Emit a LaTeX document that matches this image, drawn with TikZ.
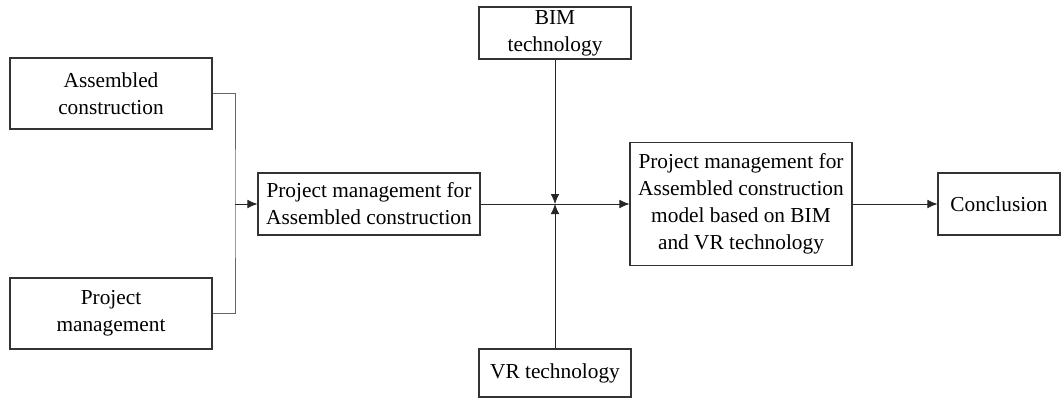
\documentclass[tikz,border=0pt]{standalone}
\usepackage{fontspec}
\setmainfont{Liberation Serif}
\usetikzlibrary{arrows.meta}
\begin{document}
\begin{tikzpicture}[x=0.75pt,y=-0.75pt,
  box/.style={draw=black!80,line width=0.8pt,align=center,inner sep=0pt,font=\fontsize{16}{20.3}\selectfont},
  link/.style={draw=black!85,line width=0.6pt},
  arr/.style={link,-{Latex[length=7.5pt,width=6.5pt]}},
  brk/.style={draw=black!60,line width=0.75pt}]
\useasboundingbox (0,0) rectangle (1062,400);
\node[box,minimum width=202*0.75pt,minimum height=71*0.75pt] (ac) at (111,93.5) {Assembled\\construction};
\node[box,minimum width=202*0.75pt,minimum height=71*0.75pt] (pm) at (111,313.5) {Project\\management};
\node[box,minimum width=222*0.75pt,minimum height=62*0.75pt] (pmac) at (369,204) {Project management for\\Assembled construction};
\node[box,minimum width=152*0.75pt,minimum height=52*0.75pt] (bim) at (555,33) {BIM\\technology};
\node[box,minimum width=152*0.75pt,minimum height=48*0.75pt] (vr) at (555,373) {VR technology};
\node[box,minimum width=222*0.75pt,minimum height=123*0.75pt] (big) at (741,204) {Project management for\\Assembled construction\\model based on BIM\\and VR technology};
\node[box,minimum width=122*0.75pt,minimum height=62*0.75pt] (con) at (999,204) {Conclusion};
\coordinate (j) at (555,204);
\coordinate (bx) at (235,204);
\draw[brk] (ac.east) -| (bx) |- (pm.east);
\draw[arr] (bx) -- (pmac.west);
\draw[link] (pmac.east) -- (j);
\draw[arr] (bim.south) -- (j);
\draw[arr] (vr.north) -- (j);
\draw[arr] (j) -- (big.west);
\draw[arr] (big.east) -- (con.west);
\end{tikzpicture}
\end{document}
